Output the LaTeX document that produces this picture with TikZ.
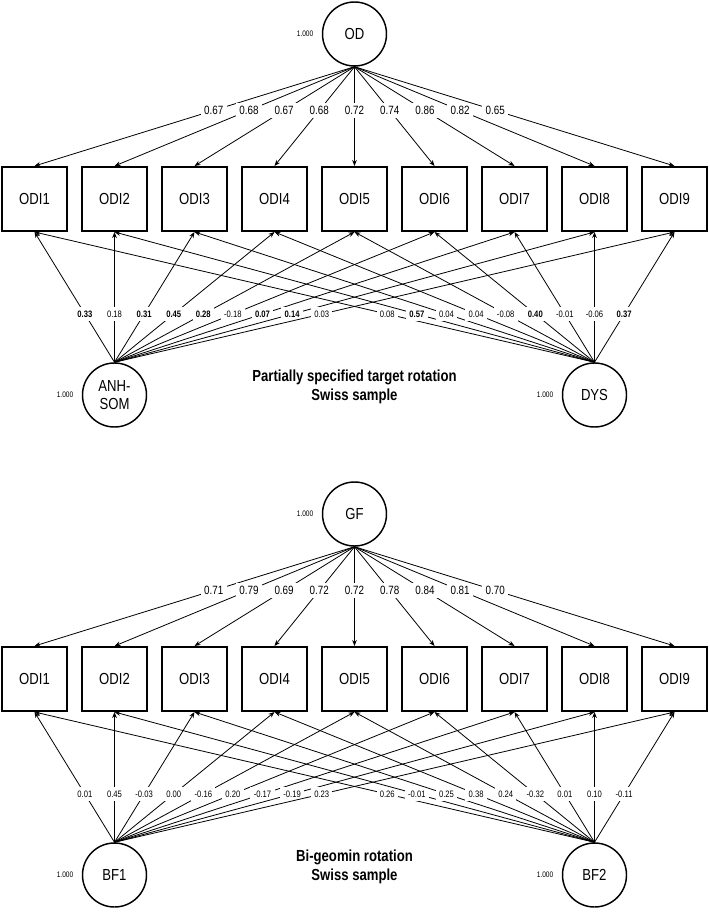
\documentclass[tikz,border=0pt]{standalone}
\usepackage{fontspec}
\setmainfont{Liberation Sans}[FakeStretch=0.82]
\usetikzlibrary{arrows.meta}

\tikzset{every picture/.style={line width=0.75pt}}
\tikzset{
  indicator/.style={draw, line width=1.5pt, minimum width=48.75pt, minimum height=48pt, inner sep=0pt, font=\fontsize{12}{12}\selectfont},
  latent/.style={draw, circle, line width=1.1pt, minimum size=48pt, inner sep=0pt, align=center, font=\fontsize{12}{13}\selectfont},
  regress/.style={-{Stealth[length=4.5pt,width=3.5pt]}, line width=0.6pt},
  loading/.style={fill=white, inner sep=2.5pt, font=\fontsize{9}{9}\selectfont},
  xload/.style={fill=white, inner sep=2.5pt, font=\fontsize{7}{7}\selectfont},
  variance/.style={anchor=east, inner sep=0pt, font=\fontsize{6}{6}\selectfont},
  titletext/.style={align=center, font=\bfseries\fontsize{12}{14.25}\selectfont}
}

\begin{document}
\begin{tikzpicture}[x=0.75pt,y=0.75pt,yscale=-1,xscale=1]
\useasboundingbox (0,0) rectangle (709,912);

%%%%%%%%%% Partially specified target rotation
% Latent Nodes
\node [latent] (OD) at (354.5,34) {OD};
\node [latent] (ANHSOM) at (114.5,395) {ANH-\\SOM};
\node [latent] (DYS) at (594.5,395) {DYS};
\node [variance] at ([xshift=-6pt]OD.west) {1.000};
\node [variance] at ([xshift=-6pt]ANHSOM.west) {1.000};
\node [variance] at ([xshift=-6pt]DYS.west) {1.000};

% Indicator Nodes
\node [indicator] (topODI1) at (34.5,199) {ODI1};
\node [indicator] (topODI2) at (114.5,199) {ODI2};
\node [indicator] (topODI3) at (194.5,199) {ODI3};
\node [indicator] (topODI4) at (274.5,199) {ODI4};
\node [indicator] (topODI5) at (354.5,199) {ODI5};
\node [indicator] (topODI6) at (434.5,199) {ODI6};
\node [indicator] (topODI7) at (514.5,199) {ODI7};
\node [indicator] (topODI8) at (594.5,199) {ODI8};
\node [indicator] (topODI9) at (674.5,199) {ODI9};

% General factor loadings
\draw [regress] (OD.south) -- node [loading, pos=0.44] {0.67} (topODI1.north);
\draw [regress] (OD.south) -- node [loading, pos=0.44] {0.68} (topODI2.north);
\draw [regress] (OD.south) -- node [loading, pos=0.44] {0.67} (topODI3.north);
\draw [regress] (OD.south) -- node [loading, pos=0.44] {0.68} (topODI4.north);
\draw [regress] (OD.south) -- node [loading, pos=0.44] {0.72} (topODI5.north);
\draw [regress] (OD.south) -- node [loading, pos=0.44] {0.74} (topODI6.north);
\draw [regress] (OD.south) -- node [loading, pos=0.44] {0.86} (topODI7.north);
\draw [regress] (OD.south) -- node [loading, pos=0.44] {0.82} (topODI8.north);
\draw [regress] (OD.south) -- node [loading, pos=0.44] {0.65} (topODI9.north);

% ANH-SOM loadings
\draw [regress] (ANHSOM.north) -- node [xload, pos=0.37] {\textbf{0.33}} (topODI1.south);
\draw [regress] (ANHSOM.north) -- node [xload, pos=0.37] {0.18} (topODI2.south);
\draw [regress] (ANHSOM.north) -- node [xload, pos=0.37] {\textbf{0.31}} (topODI3.south);
\draw [regress] (ANHSOM.north) -- node [xload, pos=0.37] {\textbf{0.45}} (topODI4.south);
\draw [regress] (ANHSOM.north) -- node [xload, pos=0.37] {\textbf{0.28}} (topODI5.south);
\draw [regress] (ANHSOM.north) -- node [xload, pos=0.37] {-0.18} (topODI6.south);
\draw [regress] (ANHSOM.north) -- node [xload, pos=0.37] {\textbf{0.07}} (topODI7.south);
\draw [regress] (ANHSOM.north) -- node [xload, pos=0.37] {\textbf{0.14}} (topODI8.south);
\draw [regress] (ANHSOM.north) -- node [xload, pos=0.37] {0.03} (topODI9.south);

% DYS loadings
\draw [regress] (DYS.north) -- node [xload, pos=0.37] {0.08} (topODI1.south);
\draw [regress] (DYS.north) -- node [xload, pos=0.37] {\textbf{0.57}} (topODI2.south);
\draw [regress] (DYS.north) -- node [xload, pos=0.37] {0.04} (topODI3.south);
\draw [regress] (DYS.north) -- node [xload, pos=0.37] {0.04} (topODI4.south);
\draw [regress] (DYS.north) -- node [xload, pos=0.37] {-0.08} (topODI5.south);
\draw [regress] (DYS.north) -- node [xload, pos=0.37] {\textbf{0.40}} (topODI6.south);
\draw [regress] (DYS.north) -- node [xload, pos=0.37] {-0.01} (topODI7.south);
\draw [regress] (DYS.north) -- node [xload, pos=0.37] {-0.06} (topODI8.south);
\draw [regress] (DYS.north) -- node [xload, pos=0.37] {\textbf{0.37}} (topODI9.south);

% Text Node
\node [titletext] (toptitle) at (354.5,387) {Partially specified target rotation\\Swiss sample};

%%%%%%%%%% Bi-geomin rotation
% Latent Nodes
\node [latent] (GF) at (354.5,514) {GF};
\node [latent] (BF1) at (114.5,875) {BF1};
\node [latent] (BF2) at (594.5,875) {BF2};
\node [variance] at ([xshift=-6pt]GF.west) {1.000};
\node [variance] at ([xshift=-6pt]BF1.west) {1.000};
\node [variance] at ([xshift=-6pt]BF2.west) {1.000};

% Indicator Nodes
\node [indicator] (botODI1) at (34.5,679) {ODI1};
\node [indicator] (botODI2) at (114.5,679) {ODI2};
\node [indicator] (botODI3) at (194.5,679) {ODI3};
\node [indicator] (botODI4) at (274.5,679) {ODI4};
\node [indicator] (botODI5) at (354.5,679) {ODI5};
\node [indicator] (botODI6) at (434.5,679) {ODI6};
\node [indicator] (botODI7) at (514.5,679) {ODI7};
\node [indicator] (botODI8) at (594.5,679) {ODI8};
\node [indicator] (botODI9) at (674.5,679) {ODI9};

% General factor loadings
\draw [regress] (GF.south) -- node [loading, pos=0.44] {0.71} (botODI1.north);
\draw [regress] (GF.south) -- node [loading, pos=0.44] {0.79} (botODI2.north);
\draw [regress] (GF.south) -- node [loading, pos=0.44] {0.69} (botODI3.north);
\draw [regress] (GF.south) -- node [loading, pos=0.44] {0.72} (botODI4.north);
\draw [regress] (GF.south) -- node [loading, pos=0.44] {0.72} (botODI5.north);
\draw [regress] (GF.south) -- node [loading, pos=0.44] {0.78} (botODI6.north);
\draw [regress] (GF.south) -- node [loading, pos=0.44] {0.84} (botODI7.north);
\draw [regress] (GF.south) -- node [loading, pos=0.44] {0.81} (botODI8.north);
\draw [regress] (GF.south) -- node [loading, pos=0.44] {0.70} (botODI9.north);

% BF1 loadings
\draw [regress] (BF1.north) -- node [xload, pos=0.37] {0.01} (botODI1.south);
\draw [regress] (BF1.north) -- node [xload, pos=0.37] {0.45} (botODI2.south);
\draw [regress] (BF1.north) -- node [xload, pos=0.37] {-0.03} (botODI3.south);
\draw [regress] (BF1.north) -- node [xload, pos=0.37] {0.00} (botODI4.south);
\draw [regress] (BF1.north) -- node [xload, pos=0.37] {-0.16} (botODI5.south);
\draw [regress] (BF1.north) -- node [xload, pos=0.37] {0.20} (botODI6.south);
\draw [regress] (BF1.north) -- node [xload, pos=0.37] {-0.17} (botODI7.south);
\draw [regress] (BF1.north) -- node [xload, pos=0.37] {-0.19} (botODI8.south);
\draw [regress] (BF1.north) -- node [xload, pos=0.37] {0.23} (botODI9.south);

% BF2 loadings
\draw [regress] (BF2.north) -- node [xload, pos=0.37] {0.26} (botODI1.south);
\draw [regress] (BF2.north) -- node [xload, pos=0.37] {-0.01} (botODI2.south);
\draw [regress] (BF2.north) -- node [xload, pos=0.37] {0.25} (botODI3.south);
\draw [regress] (BF2.north) -- node [xload, pos=0.37] {0.38} (botODI4.south);
\draw [regress] (BF2.north) -- node [xload, pos=0.37] {0.24} (botODI5.south);
\draw [regress] (BF2.north) -- node [xload, pos=0.37] {-0.32} (botODI6.south);
\draw [regress] (BF2.north) -- node [xload, pos=0.37] {0.01} (botODI7.south);
\draw [regress] (BF2.north) -- node [xload, pos=0.37] {0.10} (botODI8.south);
\draw [regress] (BF2.north) -- node [xload, pos=0.37] {-0.11} (botODI9.south);

% Text Node
\node [titletext] (bottitle) at (354.5,867) {Bi-geomin rotation\\Swiss sample};

\end{tikzpicture}
\end{document}
